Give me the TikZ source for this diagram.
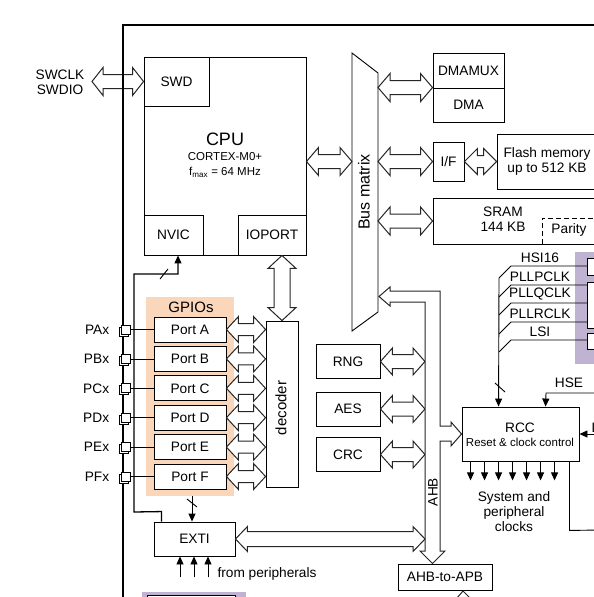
\documentclass[tikz,border=0pt]{standalone}
\usepackage{fontspec}
\setmainfont{Liberation Sans}
\usetikzlibrary{arrows.meta,calc,positioning,shadows}
\definecolor{gpiobg}{RGB}{250,214,186}
\definecolor{clkbg}{RGB}{191,179,209}
\newcommand{\fsz}{\fontsize{13.7}{15}\selectfont}
% flecha hueca horizontal: [punta]{inicio}{fin}{medio cuerpo}{media punta}
\newcommand{\harrow}[5][12pt]{%
  \draw[bus] let \p1=#2, \p2=#3 in
    (\x1,\y1) -- (\x1+#1,\y1+#5) -- (\x1+#1,\y1+#4) -- (\x2-#1,\y1+#4)
    -- (\x2-#1,\y1+#5) -- (\x2,\y1) -- (\x2-#1,\y1-#5) -- (\x2-#1,\y1-#4)
    -- (\x1+#1,\y1-#4) -- (\x1+#1,\y1-#5) -- cycle;}
% flecha hueca vertical
\newcommand{\varrow}[5][12pt]{%
  \draw[bus] let \p1=#2, \p2=#3 in
    (\x1,\y1) -- (\x1+#5,\y1-#1) -- (\x1+#4,\y1-#1) -- (\x1+#4,\y2+#1)
    -- (\x1+#5,\y2+#1) -- (\x1,\y2) -- (\x1-#5,\y2+#1) -- (\x1-#4,\y2+#1)
    -- (\x1-#4,\y1-#1) -- (\x1-#5,\y1-#1) -- cycle;}
\begin{document}
\begin{tikzpicture}[x=1pt,y=-1pt,
    every node/.style={font=\fsz},
    caja/.style={draw, fill=white, line width=0.9pt, inner sep=0pt},
    bus/.style={draw=black!85, fill=white, line width=1pt},
    sig/.style={line width=0.9pt, -{Triangle[length=8pt,width=7pt]}},
    pad/.style={draw, fill=white, line width=0.7pt, minimum size=9pt, inner sep=0pt,
      copy shadow={shadow xshift=-2pt, shadow yshift=-2pt}}]
    \useasboundingbox (0,0) rectangle (594,597);

    % CPU
    \node[caja, minimum width=162, minimum height=198] (cpu) at (225,156) {};
    \node[caja, minimum width=65, minimum height=49] (swd) at (176.5,81.5) {SWD};
    \node[caja, minimum width=59, minimum height=40] (nvic) at (173.5,235) {NVIC};
    \node[caja, minimum width=68, minimum height=40] (ioport) at (272,235) {IOPORT};
    \node[font=\fontsize{18}{20}\selectfont] (cpulbl) at (225,139) {CPU};
    \node[font=\fontsize{11.5}{12}\selectfont] (corelbl) at (225,157) {CORTEX-M0+};
    \node[font=\fontsize{11.5}{12}\selectfont] (fmaxlbl) at (225,172) {f\textsubscript{max} = 64 MHz};

    % SWD
    \node[align=center] (swlbl) at (60,82) {SWCLK\\SWDIO};
    \coordinate (swpin) at (92,81.5);
    \harrow[11pt]{(swpin)}{(swd.west)}{7pt}{14pt};

    % Marco del chip
    \draw[line width=1.3pt] (123,597) -- (123,25);
    \draw[line width=2pt] (122.35,25) -- (600,25);

    % Bus matrix
    \draw[caja] (352,53) -- (378,73) -- (378,312) -- (352,331) -- cycle;
    \node[rotate=90, font=\fontsize{16}{18}\selectfont] (busm) at (364,192) {Bus matrix};
    \coordinate (busL) at (352,161.5);
    \coordinate (busR) at (378,0);
    \harrow{(cpu.east |- busL)}{(busL)}{7pt}{14pt};

    % Memorias y DMA
    \node[caja, minimum width=71, minimum height=35] (dmamux) at (468.5,70.5) {DMAMUX};
    \node[caja, minimum width=71, minimum height=34] (dma) at (468.5,105) {DMA};
    \harrow{(busR |- dma.north)}{(dma.north west)}{7pt}{14pt};
    \node[caja, minimum width=31, minimum height=39] (ifc) at (448.5,161.5) {I/F};
    \node[caja, minimum width=100, minimum height=55, align=center] (flash) at (547,161.5) {Flash memory\\up to 512 KB};
    \harrow{(busR |- ifc.west)}{(ifc.west)}{7pt}{14pt};
    \harrow[13pt]{(ifc.east)}{(flash.west)}{6pt}{13pt};
    \node[caja, minimum width=167, minimum height=46] (sram) at (516.5,221) {};
    \node[align=center] (sramlbl) at (503,219) {SRAM\\144 KB};
    \draw[line width=0.9pt, dash pattern=on 5pt off 3pt] (542,244) -- (542,218) -- (600,218);
    \node (parity) at (569,230) {Parity};
    \harrow{(busR |- sram.west)}{(sram.west)}{7pt}{14pt};

    % RCC
    \node[caja, minimum width=117, minimum height=54] (rcc) at (520.5,434) {};
    \node (rcclbl) at (520,428) {RCC};
    \node[font=\fontsize{11.5}{13}\selectfont] (rccsub) at (520,442.5) {Reset \& clock control};
    \foreach \i in {0,...,6}
        \draw[sig] ($(rcc.south west)+(9+14*\i,0)$) -- ++(0,19);
    \node[align=center] (sysclk) at (514,512) {System and\\peripheral\\clocks};
    \draw[line width=0.9pt] ($(rcc.south east)+(-10,0)$) -- ++(0,69) -- (600,530);
    \draw[sig] (600,393) -- (546,393) -- ($(rcc.north west)+(84,0)$);
    \node (hse) at (569,383) {HSE};
    \draw[sig] (600,434) -- (rcc.east);
    \node[anchor=base west, inner sep=0pt] (lse) at (591.5,432) {LSE};

    % Relojes
    \fill[clkbg] (575,252) rectangle (600,364);
    \draw[caja] (587,258) rectangle (600,275);
    \draw[caja] (587,282) rectangle (600,328);
    \draw[caja] (587,333) rectangle (600,349);
    \foreach \t/\y in {HSI16/266, PLLPCLK/285, PLLQCLK/303, PLLRCLK/322, LSI/340} {
        \draw[line width=0.9pt] (587,\y) -- (511,\y) -- ++(-12,12);
        \node (clk\t) at (540,\y-8.5) {\t};
    }
    \draw[sig] (499,278) -- ($(rcc.north west)+(37,0)$);
    \draw[line width=0.9pt] (495,383) -- (505,392);

    % Perifericos AHB
    \coordinate (ahbL) at (425,0);
    \foreach \b/\t/\y in {rng/RNG/361.5, aes/AES/409, crc/CRC/454.5} {
        \node[caja, minimum width=64, minimum height=34] (\b) at (348,\y) {\t};
        \harrow{(\b.east)}{(ahbL |- \b.east)}{7pt}{13.5pt};
    }

    % Bus AHB
    \draw[bus] (440,426) -- (440,291) -- (390,291) -- (390,287) -- (379,296.5)
        -- (390,306) -- (390,302) -- (425,302) -- (425,551) -- (420,551)
        -- (432.5,563.5) -- (445,551) -- (440,551) -- (440,441) -- (451,441)
        -- (451,446) -- (rcc.west) -- (451,422) -- (451,426) -- cycle;
    \node[rotate=90] (ahblbl) at (433,492) {AHB};
    \node[caja, minimum width=94, minimum height=26] (apb) at (445,577) {AHB-to-APB};
    \draw[bus, fill=none] (457,598) -- (463,591) -- (470,598);

    % GPIOs
    \fill[gpiobg] (146,297) rectangle (234,496);
    \node[font=\fontsize{15}{17}\selectfont] (gpiolbl) at (191,307) {GPIOs};
    \node[caja, minimum width=32, minimum height=166] (dec) at (282,404) {};
    \node[rotate=90, font=\fontsize{15}{17}\selectfont] (declbl) at (281,408) {decoder};
    \varrow[13pt]{(dec.north |- ioport.south)}{(dec.north)}{8pt}{14pt};
    \foreach \q/\w [count=\i from 0] in {A/0.8,B/0.8,C/1.6,D/0.8,E/0.8,F/1.6} {
        \node[caja, minimum width=72, minimum height=25] (port\q) at (190,329.5+29.4*\i) {Port \q};
        \node[pad] (pad\q) at (125.5,329.5+29.4*\i) {};
        \node[left=8pt of pad\q] (lbl\q) {P\q x};
        \draw[line width=\w pt] (pad\q.east) -- (port\q.west);
        \harrow{(port\q.east)}{(dec.west |- port\q.east)}{6pt}{13pt};
    }

    % EXTI
    \node[caja, minimum width=81, minimum height=34] (exti) at (194.5,539) {EXTI};
    \harrow{(exti.east)}{(ahbL |- exti.east)}{7.5pt}{12.5pt};
    \draw[sig, line width=1.3pt] ($(exti.north west)+(8,0)$) -- ++(0,-10) -- (134,512)
        -- (134,274) -- (178,274) -- ($(nvic.south)+(4.5,0)$);
    \draw[line width=0.9pt] (160,279) -- (168,269);
    \draw[sig] (192,496) -- ($(exti.north)+(-2.5,0)$);
    \draw[line width=0.9pt] (187,499) -- (197,507);
    \foreach \d in {-14.5,-0.5,13.5}
        \draw[sig] ($(exti.south)+(\d,21)$) -- ($(exti.south)+(\d,0)$);
    \node[anchor=west] (perilbl) at (214,574) {from peripherals};
    \fill[clkbg] (142,592) rectangle (246,600);
    \draw[caja] (147,595) rectangle (235,605);
\end{tikzpicture}
\end{document}
